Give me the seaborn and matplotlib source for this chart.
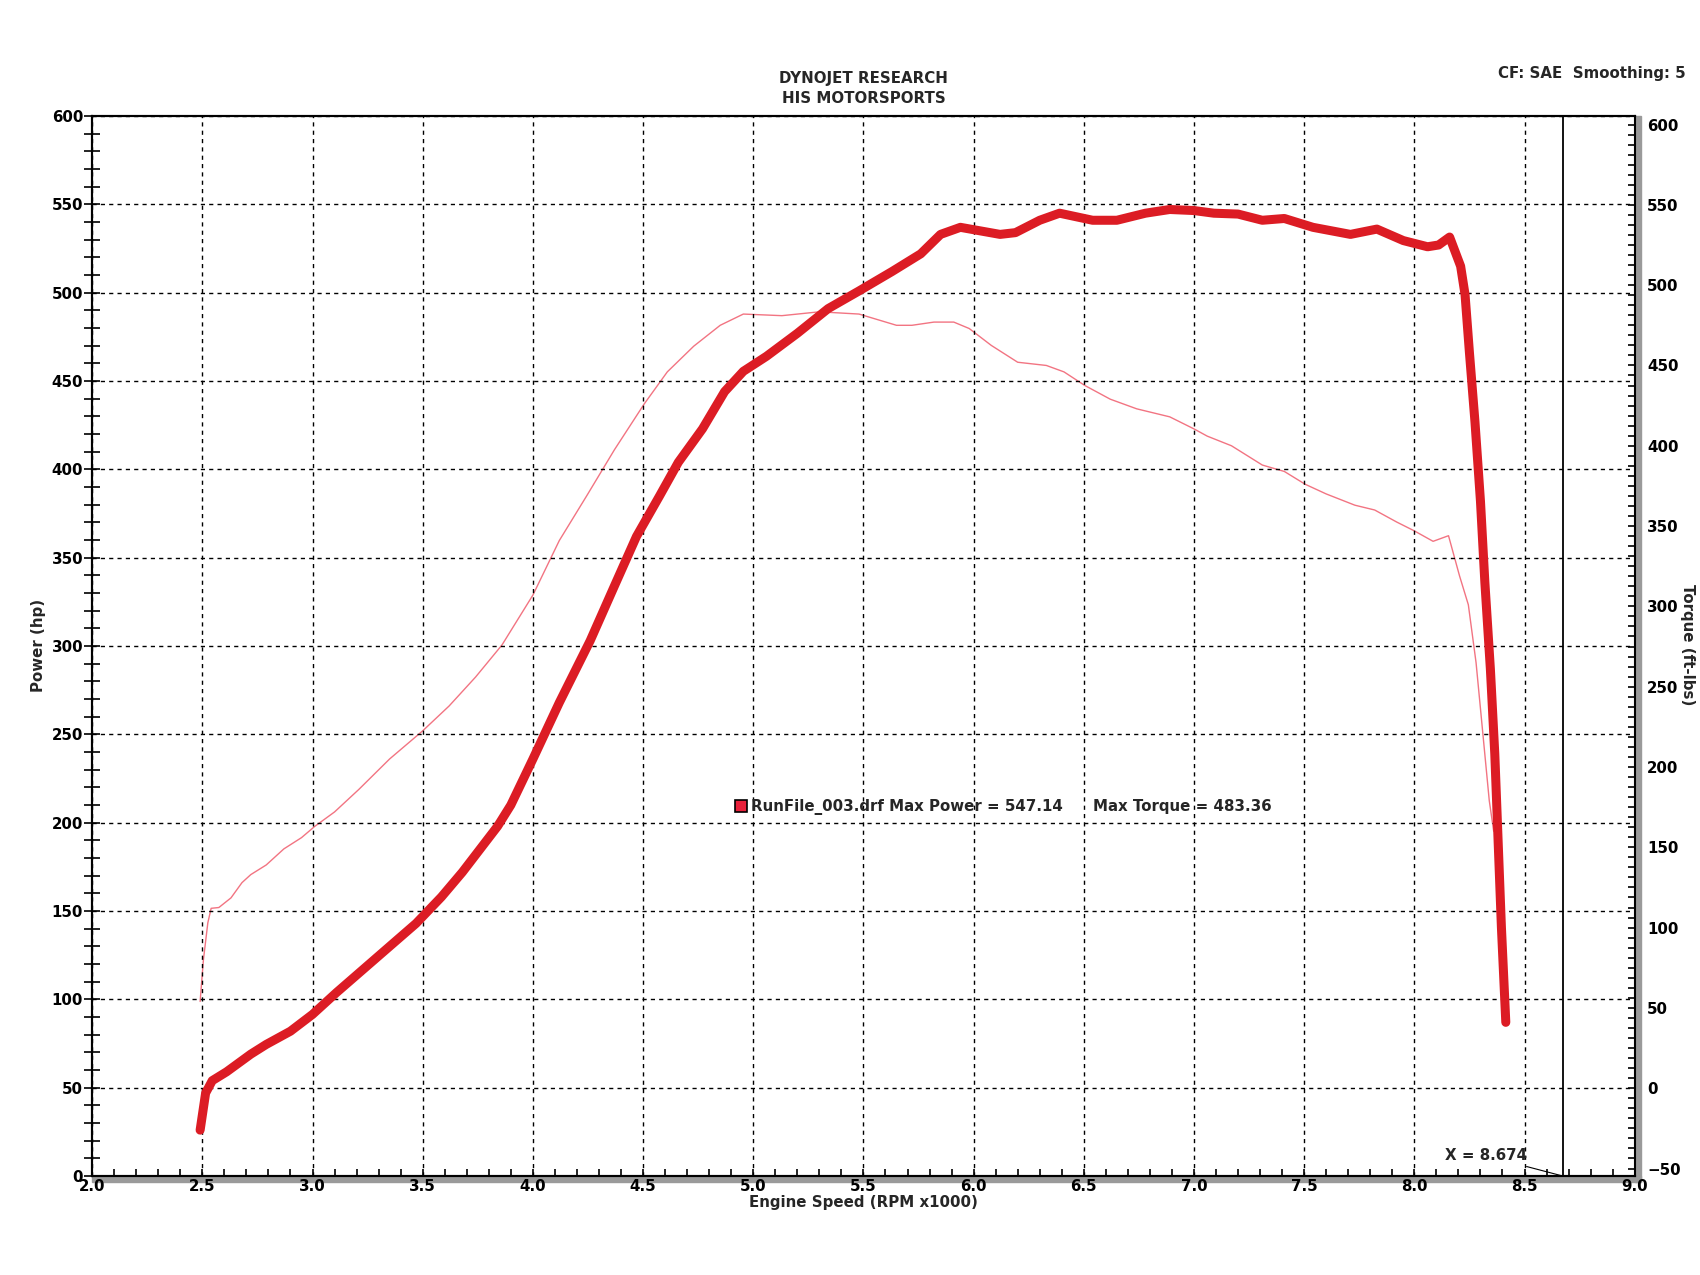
import numpy as np
import pandas as pd
import matplotlib
matplotlib.use("Agg")
import matplotlib.pyplot as plt
from matplotlib.ticker import MultipleLocator, FormatStrFormatter
from matplotlib.patches import Rectangle
import seaborn as sns

# Power run (engine speed in RPM x1000, power in hp)
rpm_power = [2.49, 2.515, 2.545, 2.61, 2.72, 2.79, 2.90, 3.00, 3.11, 3.23, 3.35, 3.47,
             3.585, 3.68, 3.76, 3.84, 3.90, 4.00, 4.12, 4.26, 4.37, 4.47, 4.575, 4.66,
             4.77, 4.87, 4.955, 5.06, 5.20, 5.34, 5.48, 5.63, 5.76, 5.85, 5.94, 6.03,
             6.12, 6.19, 6.30, 6.39, 6.54, 6.65, 6.78, 6.89, 7.00, 7.09, 7.20, 7.31,
             7.41, 7.54, 7.71, 7.83, 7.95, 8.06, 8.11, 8.16, 8.21, 8.23, 8.25, 8.275,
             8.30, 8.32, 8.345, 8.365, 8.38, 8.395, 8.415]
power_hp = [26, 47, 54, 59, 69, 74.5, 82, 91.5, 104, 117, 130, 143,
            158, 172, 185, 198, 210, 236, 268, 303, 334, 362, 385, 404,
            423, 444, 455.5, 464, 477, 491, 501, 512, 522, 533, 537, 535,
            533, 534, 541, 545, 541, 541, 545, 547.1, 546.5, 545, 544.5, 541,
            542, 537, 533, 536, 529.5, 526, 527, 531.5, 515, 499, 466, 427,
            382, 336, 287, 239, 190, 141, 87]

# Torque run (ft-lbs)
rpm_torque = [2.49, 2.505, 2.525, 2.54, 2.575, 2.63, 2.68, 2.72, 2.79, 2.87, 2.95, 3.01,
              3.10, 3.21, 3.35, 3.50, 3.62, 3.74, 3.86, 4.00, 4.12, 4.245, 4.37, 4.505,
              4.61, 4.73, 4.85, 4.955, 5.13, 5.30, 5.48, 5.65, 5.72, 5.82, 5.91, 5.98,
              6.08, 6.20, 6.33, 6.41, 6.505, 6.62, 6.74, 6.89, 7.00, 7.06, 7.17, 7.31,
              7.41, 7.505, 7.60, 7.73, 7.82, 7.92, 8.00, 8.085, 8.155, 8.205, 8.245,
              8.28, 8.31, 8.34, 8.36]
torque_ftlb = [54, 80, 103, 112, 112.5, 118.5, 128, 133, 139, 149, 156, 163,
               172, 186, 205, 222.5, 238, 256, 276, 307, 341, 369, 397.5, 426,
               446, 462, 475, 482, 481, 483.4, 482, 475, 475, 477, 477, 473,
               462.5, 452, 450, 446, 437.5, 429, 423, 418, 410.5, 406, 400, 388,
               384, 376, 370, 363, 360, 352.5, 347, 340.5, 344, 319, 301,
               265, 222, 179, 160]

run_name = "RunFile_003.drf"
max_power = 547.14
max_torque = 483.36
cursor_x = 8.674

power_df = pd.DataFrame({"rpm": rpm_power, "hp": power_hp})
torque_df = pd.DataFrame({"rpm": rpm_torque, "tq": torque_ftlb})

sns.set_style("white")
plt.rcParams["font.family"] = ["DejaVu Sans"]
plt.rcParams["font.weight"] = "bold"

fs = 10.8
thick_red = "#dc1c24"
thin_red = "#f27482"

fig = plt.figure(figsize=(17, 12.75), dpi=100)
ax = fig.add_axes([0.0542, 0.0776, 0.9074, 0.8314])
ax2 = ax.twinx()

sns.lineplot(data=torque_df, x="rpm", y="tq", ax=ax2, color=thin_red, lw=1.0,
             sort=False, estimator=None)
sns.lineplot(data=power_df, x="rpm", y="hp", ax=ax, color=thick_red, lw=6.5,
             sort=False, estimator=None, solid_capstyle="round", zorder=5)

# power axis on top of torque axis so the thick line covers the thin one
ax.set_zorder(ax2.get_zorder() + 1)
ax.patch.set_visible(False)

ax.set_xlim(2.0, 9.0)
ax.set_ylim(0, 600)
ax2.set_ylim(-54.7, 605.3)

ax.xaxis.set_major_locator(MultipleLocator(0.5))
ax.xaxis.set_minor_locator(MultipleLocator(0.1))
ax.xaxis.set_major_formatter(FormatStrFormatter("%.1f"))
ax.yaxis.set_major_locator(MultipleLocator(50))
ax.yaxis.set_minor_locator(MultipleLocator(10))
ax2.yaxis.set_major_locator(MultipleLocator(50))
ax2.yaxis.set_minor_locator(MultipleLocator(6.25))

ax.tick_params(axis="x", which="both", direction="in", length=5, width=1.2,
               pad=2, labelsize=fs, colors="black", bottom=True, top=False)
ax.tick_params(axis="y", which="both", direction="inout", length=11, width=1.2,
               pad=1, labelsize=fs, colors="black", left=True, right=False)
ax2.tick_params(axis="y", which="both", direction="in", length=5, width=1.2,
                pad=9, labelsize=fs, colors="black", right=True)
for lab in ax.get_xticklabels() + ax.get_yticklabels() + ax2.get_yticklabels():
    lab.set_fontweight("bold")

ax.grid(True, which="major", color="black", linestyle=(0, (3, 3)), lw=1.0)
ax2.grid(False)

for a in (ax, ax2):
    for side in ["top", "bottom", "left", "right"]:
        a.spines[side].set_color("black")
        a.spines[side].set_linewidth(1.5)
ax.spines["right"].set_visible(False)

ax.set_xlabel("")
ax.set_ylabel("")
ax2.set_ylabel("")

# cursor line and readout
ax.axvline(cursor_x, color="black", lw=1.3, zorder=3)
ax.annotate(f"X = {cursor_x:.3f}", xy=(cursor_x, 0), xytext=(8.51, 11.5),
            ha="right", va="center", fontsize=fs, fontweight="bold",
            arrowprops=dict(arrowstyle="-", lw=0.8, color="black",
                            shrinkA=0, shrinkB=0))

# run legend inside the plot
ax.plot([4.946], [209.5], marker="s", ms=8, mfc="#e8203a", mec="black",
        mew=1.2, ls="none", zorder=6)
ax.text(4.99, 209, f"{run_name} Max Power = {max_power:.2f}", ha="left",
        va="center", fontsize=fs, fontweight="bold", zorder=6)
ax.text(6.54, 209, f"Max Torque = {max_torque:.2f}", ha="left",
        va="center", fontsize=fs, fontweight="bold", zorder=6)

# gray shadow along bottom and right edges
band = "#9a9a9a"
fig.add_artist(Rectangle((0.0541, 0.0729), 0.9112, 0.0048, transform=fig.transFigure,
                         color=band, zorder=-1))
fig.add_artist(Rectangle((0.9618, 0.0729), 0.0035, 0.836, transform=fig.transFigure,
                         color=band, zorder=-1))

fig.text(0.508, 0.9388, "DYNOJET RESEARCH", ha="center", va="center",
         fontsize=fs, fontweight="bold")
fig.text(0.508, 0.9227, "HIS MOTORSPORTS", ha="center", va="center",
         fontsize=fs, fontweight="bold")
fig.text(0.9918, 0.9422, "CF: SAE  Smoothing: 5", ha="right", va="center",
         fontsize=fs, fontweight="bold")
fig.text(0.0229, 0.494, "Power (hp)", rotation=90, ha="center", va="center",
         fontsize=fs, fontweight="bold")
fig.text(0.9924, 0.494, "Torque (ft-lbs)", rotation=270, ha="center", va="center",
         fontsize=fs, fontweight="bold")
fig.text(0.508, 0.0565, "Engine Speed (RPM x1000)", ha="center", va="center",
         fontsize=fs, fontweight="bold")

fig.savefig("out.png", dpi=100, facecolor="white")
